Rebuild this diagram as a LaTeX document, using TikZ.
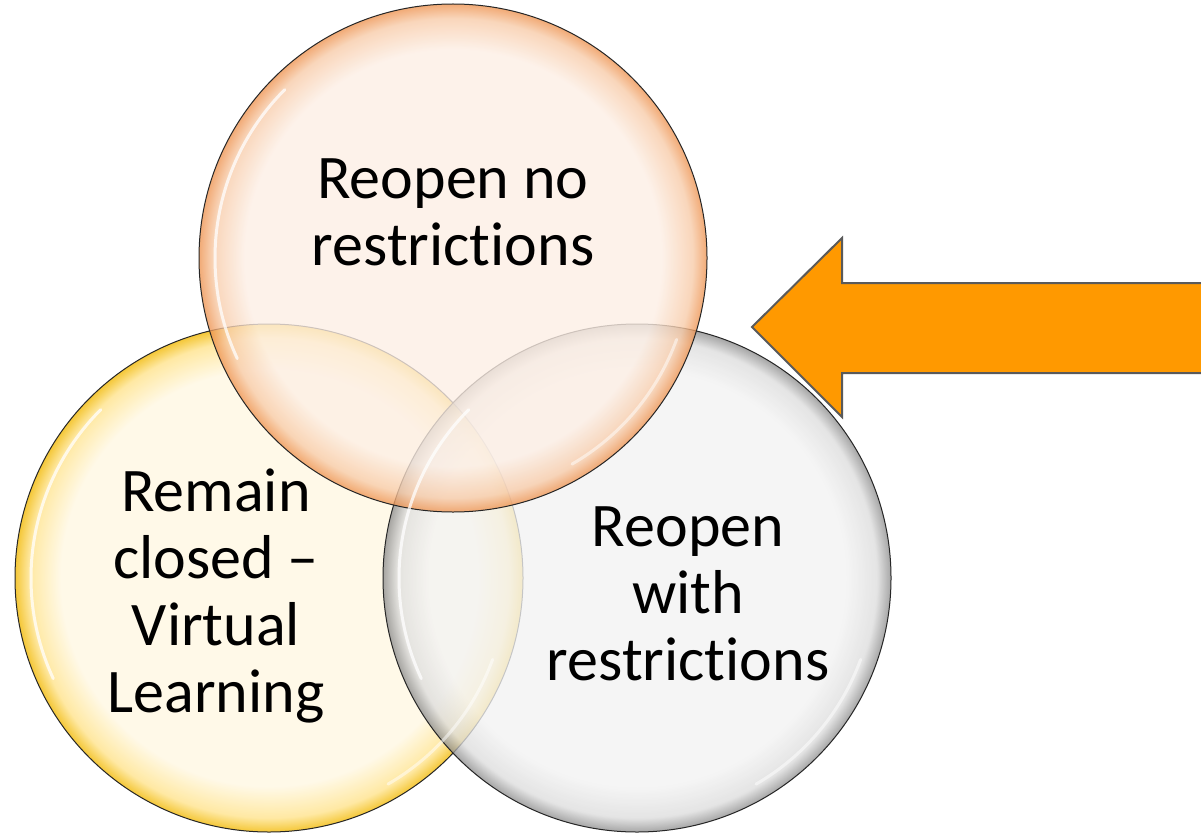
\documentclass[tikz,border=0pt]{standalone}
\usepackage{fontspec}
\setmainfont{Carlito}[Ligatures={NoCommon}]
\definecolor{orC}{HTML}{FDEFE5}
\definecolor{orM}{HTML}{F8CBA8}
\definecolor{orR}{HTML}{EE9350}
\definecolor{yeC}{HTML}{FFF8E2}
\definecolor{yeM}{HTML}{FFE38A}
\definecolor{yeR}{HTML}{F2B800}
\definecolor{grC}{HTML}{F3F3F3}
\definecolor{grM}{HTML}{DDDDDD}
\definecolor{grR}{HTML}{8E8E8E}
\definecolor{arrowfill}{HTML}{FF9900}
\definecolor{arrowline}{HTML}{5A5A5A}
\pgfdeclareradialshading{orglass}{\pgfpoint{0bp}{0bp}}{color(0bp)=(orC); color(20.5bp)=(orC); color(23.6bp)=(orM); color(25bp)=(orR); color(50bp)=(orR)}
\pgfdeclareradialshading{yeglass}{\pgfpoint{0bp}{0bp}}{color(0bp)=(yeC); color(20.5bp)=(yeC); color(23.6bp)=(yeM); color(25bp)=(yeR); color(50bp)=(yeR)}
\pgfdeclareradialshading{grglass}{\pgfpoint{0bp}{0bp}}{color(0bp)=(grC); color(20.5bp)=(grC); color(23.6bp)=(grM); color(25bp)=(grR); color(50bp)=(grR)}
\tikzset{
  bubble/.style={circle, minimum size=508pt, inner sep=0pt, draw=black!85, line width=1pt, fill opacity=0.78},
  gloss/.style={white, line width=3pt, opacity=0.75, line cap=round},
  label/.style={align=center, font=\fontsize{62}{67}\selectfont, text=black},
}
\begin{document}
\begin{tikzpicture}[x=1pt,y=-1pt]
\useasboundingbox (0,0) rectangle (1201,832);
\fill[white] (0,0) rectangle (1201,832);
% circles
\node[bubble, shade, shading=yeglass] (yel) at (269,578) {};
\node[bubble, shade, shading=grglass] (gry) at (637,578) {};
\node[bubble, shade, shading=orglass] (ora) at (453,258) {};
% gloss highlights
\foreach \c in {yel,gry,ora}{
  \draw[gloss] (\c.center) ++(205:238pt) arc[start angle=205, end angle=135, radius=238pt];
  \draw[gloss, opacity=0.5] (\c.center) ++(-60:238pt) arc[start angle=-60, end angle=-20, radius=238pt];
}
% labels
\node[label] (tora) at (453,212) {Reopen no\\restrictions};
\node[label] (tyel) at (216,596) {Remain\\closed –\\Virtual\\Learning};
\node[label] (tgry) at (688,594) {Reopen\\with\\restrictions};
% arrow
\coordinate (tip) at (752,327);
\draw[fill=arrowfill, draw=arrowline, line width=2pt, line join=miter]
  (tip) -- (842,238) -- (842,283) -- (1203,283) -- (1203,373) -- (842,373) -- (842,417) -- cycle;
\end{tikzpicture}
\end{document}
